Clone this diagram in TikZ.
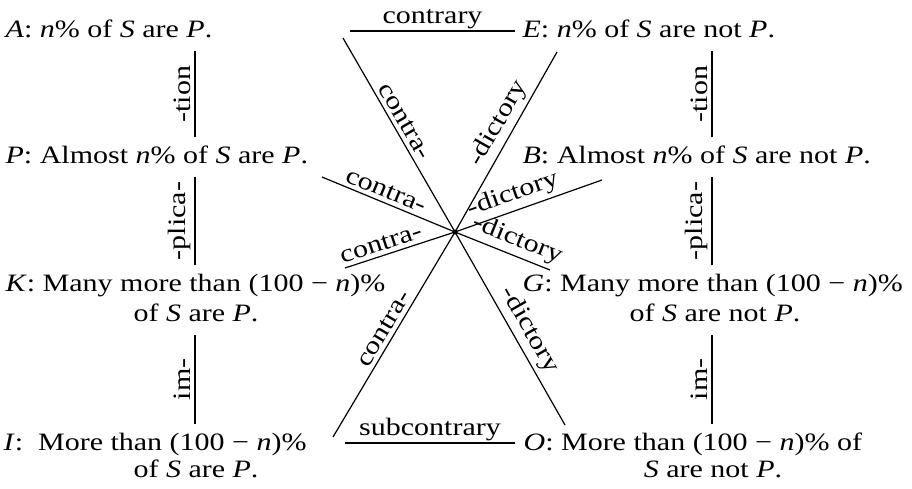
\documentclass[tikz,border=0pt]{standalone}
\usepackage{fontspec}
\setmainfont{Liberation Serif}[FakeStretch=1.2]
\begin{document}
\begin{tikzpicture}[x=1pt,y=-1pt,line width=1.2pt,
  every node/.style={font=\fontsize{25}{30}\selectfont},
  stmt/.style={anchor=base west,inner xsep=0pt,inner ysep=8pt,text height=17pt,text depth=5pt},
  stmtb/.style={stmt,anchor=base},
  tag/.style={sloped,above,inner sep=4pt},
  rel/.style={above,inner sep=2pt}]
  \useasboundingbox (0,0) rectangle (912,488);
  % left column
  \node[stmt] (A) at (5,37) {\textit{A}: \textit{n}\% of \textit{S} are \textit{P}.};
  \node[stmt] (P) at (5,163) {\textit{P}: Almost \textit{n}\% of \textit{S} are \textit{P}.};
  \node[stmt] (K) at (5,291) {\textit{K}: Many more than (100 − \textit{n})\%};
  \node[stmtb] (K2) at (196,321) {of \textit{S} are \textit{P}.};
  \node[stmt] (I) at (3,450) {\textit{I}:\ \ More than (100 − \textit{n})\%};
  \node[stmtb] (I2) at (196,477) {of \textit{S} are \textit{P}.};
  % right column
  \node[stmt] (E) at (522,37) {\textit{E}: \textit{n}\% of \textit{S} are not \textit{P}.};
  \node[stmt] (B) at (522,163) {\textit{B}: Almost \textit{n}\% of \textit{S} are not \textit{P}.};
  \node[stmt] (G) at (522,291) {\textit{G}: Many more than (100 − \textit{n})\%};
  \node[stmtb] (G2) at (715,321) {of \textit{S} are not \textit{P}.};
  \node[stmt] (O) at (523,450) {\textit{O}: More than (100 − \textit{n})\% of};
  \node[stmtb] (O2) at (713,477) {\textit{S} are not \textit{P}.};
  % implications
  \coordinate (colL) at (195,0);
  \coordinate (colR) at (712,0);
  \draw (P.north -| colL) -- node[tag]{-tion} (A.south -| colL);
  \draw (K.north -| colL) -- node[tag]{-plica-} (P.south -| colL);
  \draw (I.north -| colL) -- node[tag]{im-} (K2.south -| colL);
  \draw (B.north -| colR) -- node[tag]{-tion} (E.south -| colR);
  \draw (G.north -| colR) -- node[tag]{-plica-} (B.south -| colR);
  \draw (O.north -| colR) -- node[tag]{im-} (G2.south -| colR);
  % contradictories
  \coordinate (C) at (455,232);
  \coordinate (a1) at (343,38);
  \coordinate (o1) at (565,425);
  \coordinate (e1) at (557,52);
  \coordinate (i1) at (333,437);
  \coordinate (p1) at (322,177);
  \coordinate (g1) at (550,270);
  \coordinate (b1) at (602,180);
  \coordinate (k1) at (345,268);
  \draw (a1) -- node[tag,pos=.46]{contra-} (C) -- node[tag,pos=.55]{-dictory} (o1);
  \draw (i1) -- node[tag,pos=.5]{contra-} (C) -- node[tag,pos=.56]{-dictory} (e1);
  \draw (p1) -- node[tag,pos=.45]{contra-} (C) -- node[tag,pos=.6]{-dictory} (g1);
  \draw (k1) -- node[tag,pos=.36]{contra-} (C) -- node[tag,pos=.43]{-dictory} (b1);
  \fill (C) circle (2.5);
  % contraries
  \coordinate (ct) at (350,31);
  \coordinate (sc) at (345,443);
  \draw (ct) -- node[rel]{contrary} ([shift={(-7,-6)}]E.base west);
  \draw (sc) -- node[rel]{subcontrary} ([shift={(-8,-7)}]O.base west);
\end{tikzpicture}
\end{document}
